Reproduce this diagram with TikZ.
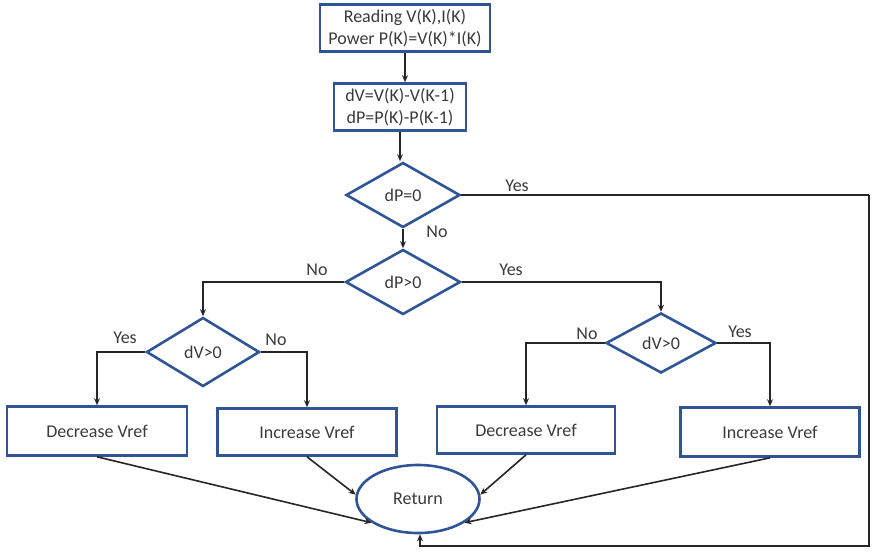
\documentclass[tikz,border=0pt]{standalone}
\usepackage{fontspec}
\setmainfont{Carlito}
\usetikzlibrary{shapes.geometric,arrows.meta}
\definecolor{bblue}{HTML}{2F5597}
\definecolor{tgray}{HTML}{3A3A3A}
\definecolor{lgray}{HTML}{262626}
\begin{document}
\begin{tikzpicture}[x=1pt,y=-1pt,
  every node/.style={font=\fontsize{18}{22}\selectfont, text=tgray},
  procbox/.style={draw=bblue, line width=2.6pt, rectangle, inner sep=0pt, align=center},
  decbox/.style={draw=bblue, line width=2.6pt, diamond, inner sep=0pt, aspect=1.75},
  retbox/.style={draw=bblue, line width=2.6pt, ellipse, inner sep=0pt},
  conn/.style={draw=lgray, line width=1.6pt, -{Stealth[length=7pt,width=6pt]}},
  plainconn/.style={draw=lgray, line width=1.6pt},
  lbl/.style={inner sep=0pt}
]
\useasboundingbox (0,0) rectangle (872,555);

\node[procbox, minimum width=170pt, minimum height=47pt] (b1) at (405,28) {Reading V(K),I(K)\\Power P(K)=V(K)*I(K)};
\node[procbox, minimum width=132pt, minimum height=47pt] (b2) at (400,107) {dV=V(K)-V(K-1)\\dP=P(K)-P(K-1)};
\node[decbox, minimum width=114pt, minimum height=65pt] (d1) at (403,195) {dP=0};
\node[decbox, minimum width=115pt, minimum height=65pt] (d2) at (403,282) {dP>0};
\node[decbox, minimum width=113pt, minimum height=69pt] (d3) at (203,352) {dV>0};
\node[decbox, minimum width=110pt, minimum height=60pt] (d4) at (661,343) {dV>0};
\node[procbox, minimum width=180pt, minimum height=49pt] (r1) at (97,431) {Decrease Vref};
\node[procbox, minimum width=179pt, minimum height=47pt] (r2) at (307,432) {Increase Vref};
\node[procbox, minimum width=178pt, minimum height=47pt] (r3) at (526,430) {Decrease Vref};
\node[procbox, minimum width=179pt, minimum height=49pt] (r4) at (770,432) {Increase Vref};
\node[retbox, minimum width=123pt, minimum height=68pt] (ret) at (418,499) {Return};

\coordinate (c1) at (869,195);
\coordinate (c3) at (420,546);

% main chain
\draw[conn] (b1.south) -- (b1.south |- b2.north);
\draw[conn] (b2.south) -- (b2.south |- d1.north);
\draw[conn] (d1.south) -- (d2.north);

% dP=0 yes loop
\draw[plainconn] (d1.east) -- (c1);
\draw[conn] (c1) |- (c3) -- (c3 |- ret.south);

% dP>0 branches
\draw[conn] (d2.west) -| (d3.north);
\draw[conn] (d2.east) -| (d4.north);

% dV>0 left
\draw[conn] (d3.west) -| (r1.north);
\draw[conn] (d3.east) -| (r2.north);

% dV>0 right
\draw[conn] (d4.west) -| (r3.north);
\draw[conn] (d4.east) -| (r4.north);

% to return
\draw[conn] (r1.south) -- (ret.207);
\draw[conn] (r2.south) -- (ret.176);
\draw[conn] (r3.south) -- (ret.4);
\draw[conn] (r4.south) -- (ret.-27);

% labels
\node[lbl] (l1) at (517,186) {Yes};
\node[lbl] (l2) at (437,232) {No};
\node[lbl] (l3) at (317,270) {No};
\node[lbl] (l4) at (511,270) {Yes};
\node[lbl] (l5) at (125,338) {Yes};
\node[lbl] (l6) at (276,340) {No};
\node[lbl] (l7) at (587,334) {No};
\node[lbl] (l8) at (740,332) {Yes};
\end{tikzpicture}
\end{document}
